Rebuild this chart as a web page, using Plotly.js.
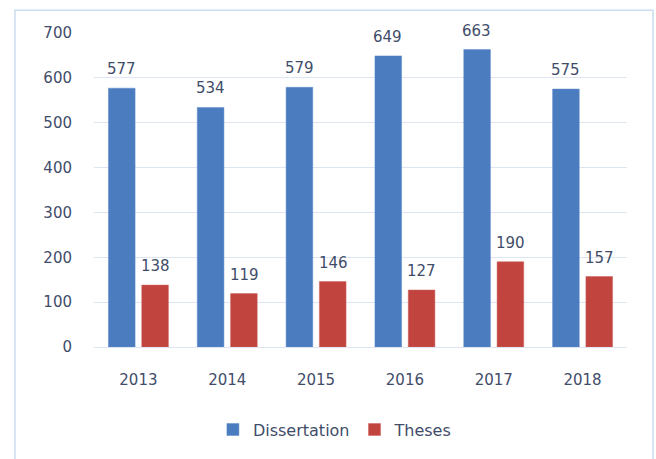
<!DOCTYPE html>
<html>
<head>
<meta charset="utf-8">
<script src="https://cdn.plot.ly/plotly-3.0.1.min.js"></script>
<style>
html,body{margin:0;padding:0;background:#fff;}
#chart{width:656px;height:459px;}
</style>
</head>
<body>
<div id="chart"></div>
<script>
const years = ['2013', '2014', '2015', '2016', '2017', '2018'];
const dissertation = [577, 534, 579, 649, 663, 575];
const theses = [138, 119, 146, 127, 190, 157];
const yTicks = [0, 100, 200, 300, 400, 500, 600, 700];

const textColor = '#3f4d6a';
const fontFam = 'DejaVu Sans, sans-serif';

const traces = [
  {type: 'bar', name: 'Dissertation', x: years, y: dissertation,
   marker: {color: '#4a7cbf', line: {color: '#5c8bc8', width: 0.5}}, hoverinfo: 'none'},
  {type: 'bar', name: 'Theses', x: years, y: theses,
   marker: {color: '#c1443f', line: {color: '#cc625e', width: 0.5}}, hoverinfo: 'none'}
];

const annotations = [];
years.forEach((yr, i) => {
  annotations.push({x: i, y: dissertation[i], xref: 'x', yref: 'y', text: String(dissertation[i]),
    showarrow: false, xshift: -17, yshift: 19, yanchor: 'middle',
    font: {family: fontFam, size: 15, color: textColor}});
  annotations.push({x: i, y: theses[i], xref: 'x', yref: 'y', text: String(theses[i]),
    showarrow: false, xshift: 17, yshift: 19, yanchor: 'middle',
    font: {family: fontFam, size: 15, color: textColor}});
});

const layout = {
  width: 656, height: 459,
  margin: {l: 94, r: 29, t: 33, b: 110, pad: 0},
  paper_bgcolor: '#ffffff', plot_bgcolor: '#ffffff',
  barmode: 'group', bargap: 0.25, bargroupgap: 0.2,
  showlegend: true,
  legend: {orientation: 'h', x: 0.452, xanchor: 'center', y: -0.263, yanchor: 'middle',
    font: {family: fontFam, size: 16, color: textColor}, itemwidth: 30},
  xaxis: {type: 'category', range: [-0.5, years.length - 0.5], showgrid: false, zeroline: false,
    showline: false, ticks: '',
    ticklabelstandoff: 22, tickfont: {family: fontFam, size: 15, color: textColor}},
  yaxis: {range: [0, 700], tickvals: yTicks, ticktext: yTicks.map(String), showgrid: true,
    gridcolor: '#dce5f1', gridwidth: 1, zeroline: true, zerolinecolor: '#dce5f1', zerolinewidth: 1,
    showline: false, ticks: '', ticklabelstandoff: 21,
    tickfont: {family: fontFam, size: 15, color: textColor}},
  annotations: annotations,
  shapes: [{type: 'rect', xref: 'paper', yref: 'paper', x0: -0.1483, x1: 1.0488, y0: -0.37, y1: 1.0728,
    line: {color: '#c9dcf0', width: 1.5}, fillcolor: 'rgba(0,0,0,0)', layer: 'below'}]
};

Plotly.newPlot('chart', traces, layout, {displayModeBar: false, staticPlot: true});
</script>
</body>
</html>
